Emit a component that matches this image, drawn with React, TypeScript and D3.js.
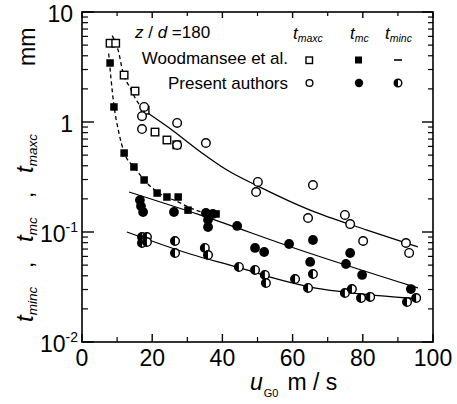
import React from "react";
import * as d3 from "d3";

// Woodmansee et al. – t_maxc (open squares)
const woodMaxcX = [8.0, 9.6, 12.0, 15.1, 18.0, 20.8, 24.2, 27.0];
const woodMaxcY = [5.2, 5.2, 2.67, 1.91, 1.28, 0.81, 0.686, 0.62];
// Woodmansee et al. – t_mc (filled squares)
const woodMcX = [8.0, 9.1, 12.0, 14.8, 17.7, 21.4, 24.2, 27.4, 30.2, 38.2];
const woodMcY = [3.44, 1.37, 0.522, 0.39, 0.297, 0.226, 0.208, 0.208, 0.158, 0.146];
// Present authors – t_maxc (open circles)
const presMaxcX = [17.7, 17.1, 17.1, 27.1, 27.1, 35.3, 50.1, 49.6, 65.8, 64.4, 74.9, 76.4, 80.1, 92.3, 93.2];
const presMaxcY = [1.37, 1.13, 0.863, 0.98, 0.618, 0.644, 0.285, 0.231, 0.267, 0.134, 0.143, 0.118, 0.0828, 0.0794, 0.0645];
// Present authors – t_mc (filled circles)
const presMcX = [16.5, 16.8, 17.4, 26.2, 35.3, 35.9, 35.9, 37.3, 44.2, 49.3, 51.9, 59.0, 65.8, 65.0, 76.4, 75.2, 79.8, 93.7];
const presMcY = [0.195, 0.172, 0.152, 0.152, 0.149, 0.129, 0.111, 0.146, 0.1135, 0.0716, 0.0658, 0.0778, 0.0846, 0.0534, 0.0644, 0.0512, 0.0407, 0.0303];
// Present authors – t_minc (half-filled circles)
const presMincX = [17.1, 18.5, 17.1, 18.5, 26.5, 26.5, 35.0, 35.9, 44.7, 49.3, 52.1, 52.4, 60.7, 65.8, 64.4, 74.9, 76.9, 79.5, 82.1, 92.6, 95.2];
const presMincY = [0.0901, 0.0901, 0.0794, 0.0811, 0.0828, 0.0644, 0.0716, 0.0618, 0.0481, 0.0452, 0.0407, 0.0344, 0.0374, 0.0415, 0.031, 0.0279, 0.0303, 0.0251, 0.0257, 0.0231, 0.0251];

// Correlation curves (solid)
const fitMaxcX = [18.5, 26, 33.6, 41.3, 50.7, 65, 81.2, 95.7];
const fitMaxcY = [1.22, 0.83, 0.54, 0.366, 0.256, 0.158, 0.104, 0.0731];
const fitMcX = [13.4, 33.6, 62.1, 95.7];
const fitMcY = [0.231, 0.143, 0.0686, 0.031];
const fitMincX = [12.8, 30.8, 45, 54.4, 65, 74.4, 96.3];
const fitMincY = [0.1, 0.0631, 0.0471, 0.0382, 0.0316, 0.0285, 0.0246];
// Dashed guides through Woodmansee data
const dashMaxcX = [8.6, 10.3, 11.7, 13.7, 16, 18.5];
const dashMaxcY = [6.1, 4.5, 2.8, 2.04, 1.49, 1.22];
const dashMcX = [7.6, 9.0, 10.5, 12, 15, 18, 22, 27, 32, 37];
const dashMcY = [4.2, 1.5, 0.8, 0.53, 0.385, 0.29, 0.225, 0.19, 0.16, 0.143];

const xTickValues = [0, 20, 40, 60, 80, 100];
const xMinorValues = [10, 30, 50, 70, 90];
const yTickLabels = [
  { v: 10, base: "10", sup: "" },
  { v: 1, base: "1", sup: "" },
  { v: 0.1, base: "10", sup: "-1" },
  { v: 0.01, base: "10", sup: "-2" },
];

const FONT = "'Liberation Sans', Arial, Helvetica, sans-serif";
const W = 457;
const H = 404;
const L = 82, R = 433, T = 12, B = 342;

const x = d3.scaleLinear().domain([0, 100]).range([L, R]);
const y = d3.scaleLog().domain([0.01, 10]).range([B, T]);

const zip = (xs: number[], ys: number[]) => xs.map((v, i) => [v, ys[i]] as [number, number]);

const lineGen = d3
  .line<[number, number]>()
  .x((d) => x(d[0]))
  .y((d) => y(d[1]))
  .curve(d3.curveMonotoneX);

function HalfCircle({ cx, cy, r }: { cx: number; cy: number; r: number }) {
  return (
    <g>
      <circle cx={cx} cy={cy} r={r} fill="white" stroke="black" strokeWidth={1.4} />
      <path d={`M${cx},${cy - r} A${r},${r} 0 0 0 ${cx},${cy + r} Z`} fill="black" />
    </g>
  );
}

export default function App() {
  const yMinor = y.ticks().filter((v) => {
    const m = v / Math.pow(10, Math.floor(Math.log10(v) + 1e-9));
    return Math.abs(m - 1) > 1e-6;
  });
  const yMajor = [0.01, 0.1, 1, 10];
  const r = 4.3;
  const s = 7.5;

  // rotated y-label pieces: [pageY(start, bottom), main, sub]
  const ylab: [number, string, string][] = [
    [322, "t", "minc"],
    [242, "t", "mc"],
    [173, "t", "maxc"],
  ];

  return (
    <div style={{ position: "absolute", left: 0, top: 0 }}>
      <svg width={W} height={H} style={{ display: "block", background: "white" }} fontFamily={FONT}>
        {/* fit curves */}
        <path d={lineGen(zip(fitMaxcX, fitMaxcY)) || ""} fill="none" stroke="black" strokeWidth={1.3} />
        <path d={lineGen(zip(fitMcX, fitMcY)) || ""} fill="none" stroke="black" strokeWidth={1.3} />
        <path d={lineGen(zip(fitMincX, fitMincY)) || ""} fill="none" stroke="black" strokeWidth={1.3} />
        <path d={lineGen(zip(dashMaxcX, dashMaxcY)) || ""} fill="none" stroke="black" strokeWidth={1.3} strokeDasharray="4,3" />
        <path d={lineGen(zip(dashMcX, dashMcY)) || ""} fill="none" stroke="black" strokeWidth={1.3} strokeDasharray="4,3" />

        {/* markers */}
        {zip(woodMaxcX, woodMaxcY).map((d, i) => (
          <rect key={"wx" + i} x={x(d[0]) - s / 2} y={y(d[1]) - s / 2} width={s} height={s} fill="white" stroke="black" strokeWidth={1.4} />
        ))}
        {zip(woodMcX, woodMcY).map((d, i) => (
          <rect key={"wm" + i} x={x(d[0]) - s / 2} y={y(d[1]) - s / 2} width={s} height={s} fill="black" />
        ))}
        {zip(presMaxcX, presMaxcY).map((d, i) => (
          <circle key={"px" + i} cx={x(d[0])} cy={y(d[1])} r={r} fill="white" stroke="black" strokeWidth={1.4} />
        ))}
        {zip(presMcX, presMcY).map((d, i) => (
          <circle key={"pm" + i} cx={x(d[0])} cy={y(d[1])} r={r + 0.6} fill="black" />
        ))}
        {zip(presMincX, presMincY).map((d, i) => (
          <HalfCircle key={"pn" + i} cx={x(d[0])} cy={y(d[1])} r={r} />
        ))}

        {/* frame */}
        <rect x={L} y={T} width={R - L} height={B - T} fill="none" stroke="black" strokeWidth={1.6} />

        {/* y ticks */}
        {yMajor.map((v) => (
          <g key={"ym" + v}>
            <line x1={L} x2={L + 12} y1={y(v)} y2={y(v)} stroke="black" strokeWidth={1.4} />
            <line x1={R} x2={R - 11} y1={y(v)} y2={y(v)} stroke="black" strokeWidth={1.4} />
          </g>
        ))}
        {yMinor.map((v) => (
          <g key={"yn" + v}>
            <line x1={L} x2={L + 6} y1={y(v)} y2={y(v)} stroke="black" strokeWidth={1.2} />
            <line x1={R} x2={R - 5} y1={y(v)} y2={y(v)} stroke="black" strokeWidth={1.2} />
          </g>
        ))}
        {/* x ticks */}
        {xTickValues.map((v) => (
          <g key={"xm" + v}>
            <line x1={x(v)} x2={x(v)} y1={B} y2={B - 8} stroke="black" strokeWidth={1.4} />
            <line x1={x(v)} x2={x(v)} y1={T} y2={T + 6} stroke="black" strokeWidth={1.4} />
          </g>
        ))}
        {xMinorValues.map((v) => (
          <g key={"xn" + v}>
            <line x1={x(v)} x2={x(v)} y1={B} y2={B - 5} stroke="black" strokeWidth={1.2} />
            <line x1={x(v)} x2={x(v)} y1={T} y2={T + 4} stroke="black" strokeWidth={1.2} />
          </g>
        ))}

        {/* x tick labels */}
        {xTickValues.map((v) => (
          <text key={"xl" + v} x={x(v)} y={366} textAnchor="middle" fontSize={23} fill="black">
            {v}
          </text>
        ))}
        {/* y tick labels */}
        {yTickLabels.map((t) => (
          <text key={"yl" + t.v} x={t.sup ? 78 : 73} y={y(t.v) + 10} textAnchor="end" fontSize={23} fill="black">
            {t.base}
            {t.sup && (
              <tspan fontSize={14} dy={-10}>
                {t.sup}
              </tspan>
            )}
          </text>
        ))}

        {/* x axis label */}
        <text x={250} y={390} fontSize={23} fill="black">
          <tspan fontStyle="italic">u</tspan>
          <tspan fontSize={11} dy={7} dx={1}>G0</tspan>
          <tspan dy={-7} dx={9}>m / s</tspan>
        </text>

        {/* y axis label (rotated) */}
        {ylab.map(([py, m, sub]) => (
          <text key={"ylab" + sub} transform={`translate(33,${py}) rotate(-90)`} fontSize={24} fill="black">
            <tspan fontStyle="italic">{m}</tspan>
            <tspan fontStyle="italic" fontSize={13.5} dy={4}>{sub}</tspan>
          </text>
        ))}
        <text transform="translate(33,268) rotate(-90)" fontSize={22} fill="black">,</text>
        <text transform="translate(33,198) rotate(-90)" fontSize={22} fill="black">,</text>
        <text transform="translate(35,66) rotate(-90)" fontSize={23} fill="black">mm</text>

        {/* legend */}
        <text x={135} y={38} fontSize={17} fill="black">
          <tspan fontStyle="italic">z</tspan>
          <tspan> / </tspan>
          <tspan fontStyle="italic">d</tspan>
          <tspan> =180</tspan>
        </text>
        <text x={288} y={64} fontSize={17} textAnchor="end" fill="black">Woodmansee et al.</text>
        <text x={288} y={89} fontSize={17} textAnchor="end" fill="black">Present authors</text>
        {([[293, "maxc"], [350, "mc"], [385, "minc"]] as [number, string][]).map(([lx, sub]) => (
          <text key={"lh" + sub} x={lx} y={39} fontSize={17} fontStyle="italic" fill="black">
            t<tspan fontSize={10.5} dy={3}>{sub}</tspan>
          </text>
        ))}
        <rect x={306} y={57} width={6.5} height={6.5} fill="white" stroke="black" strokeWidth={1.4} />
        <rect x={355} y={56.5} width={7} height={7} fill="black" />
        <line x1={394} x2={402} y1={60} y2={60} stroke="black" strokeWidth={1.6} />
        <circle cx={309.5} cy={83} r={3.4} fill="white" stroke="black" strokeWidth={1.4} />
        <circle cx={359} cy={83} r={4.2} fill="black" />
        <HalfCircle cx={398} cy={83} r={3.8} />
      </svg>
    </div>
  );
}
